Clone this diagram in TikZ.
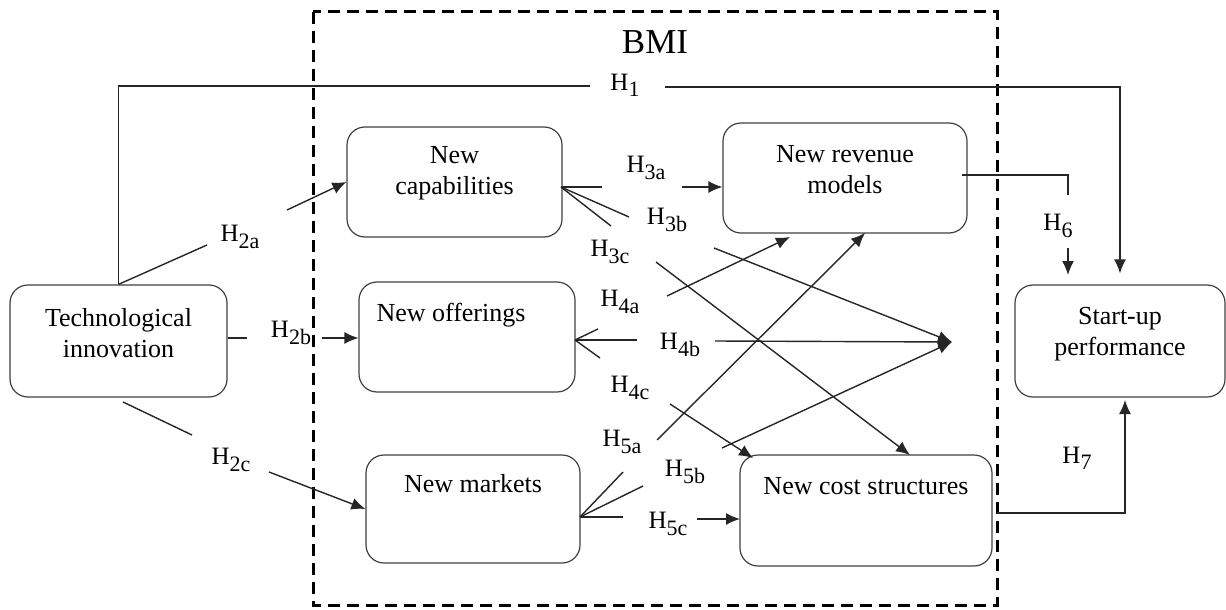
\documentclass[tikz,border=0pt]{standalone}
\usepackage{fontspec}
\setmainfont{Liberation Serif}
\usetikzlibrary{arrows.meta}
\newcommand{\Hsub}[1]{H\raisebox{-0.55ex}{\fontsize{11}{12}\selectfont #1}}
\begin{document}
\begin{tikzpicture}[x=0.5pt,y=-0.5pt,
  box/.style={draw=black!75, rounded corners=9pt, line width=0.6pt},
  txt/.style={align=center, font=\fontsize{13}{15.5}\selectfont, inner sep=0pt},
  hl/.style={font=\fontsize{12.5}{14}\selectfont, inner sep=0pt},
  conn/.style={line width=0.7pt, draw=black!85},
  arr/.style={conn, -{Latex[length=7pt,width=6pt]}}]
\useasboundingbox (0,0) rectangle (1226,610);
% dashed BMI frame
\draw[line width=1.5pt, dash pattern=on 6pt off 3.5pt] (313,12) rectangle (997,605);
\node[font=\fontsize{17.5}{20}\selectfont, inner sep=0pt] (bmi) at (655,42) {BMI};
% boxes
\node[box, minimum width=108.5pt, minimum height=56pt] (tech) at (118.5,341) {};
\node[txt] (techt) at (118.5,333.5) {Technological\\innovation};
\node[box, minimum width=107.5pt, minimum height=55pt] (cap) at (454.5,182) {};
\node[txt] (capt) at (454.5,173) {New\\capabilities};
\node[box, minimum width=108pt, minimum height=55pt] (off) at (467,337) {};
\node[txt] (offt) at (451,315) {New offerings};
\node[box, minimum width=107pt, minimum height=54pt] (mkt) at (473,509) {};
\node[txt] (mktt) at (473,484) {New markets};
\node[box, minimum width=122pt, minimum height=55pt] (rev) at (845,178) {};
\node[txt] (revt) at (845,170) {New revenue\\models};
\node[box, minimum width=126pt, minimum height=55.5pt] (cost) at (866,510.5) {};
\node[txt] (costt) at (866,486) {New cost structures};
\node[box, minimum width=105pt, minimum height=56pt] (perf) at (1120,341) {};
\node[txt] (perft) at (1120,334) {Start-up\\performance};
% labels
\node[hl] (H1) at (625,85) {\Hsub{1}};
\node[hl] (H2a) at (240,237) {\Hsub{2a}};
\node[hl] (H2b) at (291,333) {\Hsub{2b}};
\node[hl] (H2c) at (231,460) {\Hsub{2c}};
\node[hl] (H3a) at (646,168) {\Hsub{3a}};
\node[hl] (H3b) at (667,220) {\Hsub{3b}};
\node[hl] (H3c) at (610,252) {\Hsub{3c}};
\node[hl] (H4a) at (620,302) {\Hsub{4a}};
\node[hl] (H4b) at (680,345) {\Hsub{4b}};
\node[hl] (H4c) at (630,388) {\Hsub{4c}};
\node[hl] (H5a) at (622,442) {\Hsub{5a}};
\node[hl] (H5b) at (685,472) {\Hsub{5b}};
\node[hl] (H5c) at (668,524) {\Hsub{5c}};
\node[hl] (H6) at (1058,226) {\Hsub{6}};
\node[hl] (H7) at (1077,458) {\Hsub{7}};
% coordinates
\coordinate (h1a) at (590,86);
\coordinate (h1b) at (665,87);
\coordinate (h2a1) at (207,245);
\coordinate (h2a2) at (287,210);
\coordinate (h2b1) at (247,338);
\coordinate (h2b2) at (322,338);
\coordinate (h2c0) at (123,402);
\coordinate (h2c1) at (192,435);
\coordinate (h2c2) at (269,472);
\coordinate (capf) at (561,187);
\coordinate (h3a1) at (602,187);
\coordinate (h3a2) at (682,187);
\coordinate (h3b1) at (629,217);
\coordinate (h3b2) at (714,248);
\coordinate (h3c1) at (611,226);
\coordinate (h3c2) at (656,262);
\coordinate (h3ct) at (910,455);
\coordinate (meet) at (952,342);
\coordinate (offf) at (575,340);
\coordinate (h4a1) at (598,329);
\coordinate (h4a2) at (667,296);
\coordinate (h4at) at (790,237);
\coordinate (h4b1) at (637,340);
\coordinate (h4b2) at (715,341);
\coordinate (h4c1) at (600,358);
\coordinate (h4c2) at (670,404);
\coordinate (h4ct) at (753,458);
\coordinate (mktf) at (580,517);
\coordinate (h5a1) at (623,472);
\coordinate (h5a2) at (657,440);
\coordinate (h5at) at (865,233);
\coordinate (h5b1) at (643,486);
\coordinate (h5b2) at (722,448);
\coordinate (h5c1) at (623,517);
\coordinate (h5c2) at (697,519);
\coordinate (h5ct) at (740,519);
\coordinate (h6a) at (962,175);
\coordinate (h6b) at (1068,195);
\coordinate (h6c) at (1068,248);
\coordinate (h6t) at (1068,275);
\coordinate (h7a) at (997,513);
\coordinate (h7t) at (1125,400);
% H1
\draw[conn] (tech.north) |- (h1a);
\draw[arr, shorten >=5.5pt] (h1b) -| (perf.north);
% H2
\draw[conn] (tech.north) -- (h2a1);
\draw[arr] (h2a2) -- (cap.west);
\draw[conn] (tech.east |- h2b1) -- (h2b1);
\draw[arr] (h2b2) -- (off.west |- h2b2);
\draw[conn] (h2c0) -- (h2c1);
\draw[arr] (h2c2) -- (mkt.west);
% H3
\draw[conn] (capf) -- (h3a1);
\draw[arr] (h3a2) -- (rev.west |- h3a2);
\draw[conn] (capf) -- (h3b1);
\draw[arr] (h3b2) -- (meet);
\draw[conn] (capf) -- (h3c1);
\draw[arr] (h3c2) -- (h3ct);
% H4
\draw[conn] (offf) -- (h4a1);
\draw[arr] (h4a2) -- (h4at);
\draw[conn] (offf) -- (h4b1);
\draw[arr] (h4b2) -- (meet);
\draw[conn] (offf) -- (h4c1);
\draw[arr] (h4c2) -- (h4ct);
% H5
\draw[conn] (mktf) -- (h5a1);
\draw[arr] (h5a2) -- (h5at);
\draw[conn] (mktf) -- (h5b1);
\draw[arr] (h5b2) -- (meet);
\draw[conn] (mktf) -- (h5c1);
\draw[arr] (h5c2) -- (h5ct);
% H6
\draw[conn] (h6a) -| (h6b);
\draw[arr] (h6c) -- (h6t);
% H7
\draw[arr] (h7a) -| (h7t);
\end{tikzpicture}
\end{document}
